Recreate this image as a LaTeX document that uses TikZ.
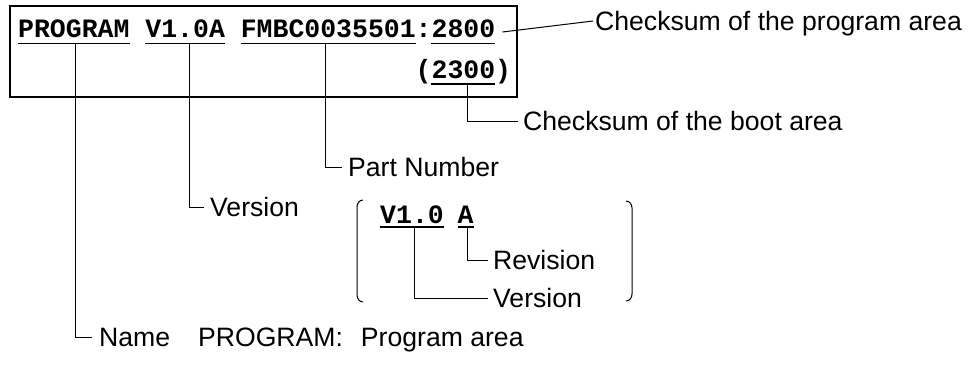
\documentclass[tikz,border=0pt]{standalone}
\usepackage{fontspec}
\setmainfont{Liberation Sans}
\setmonofont{Liberation Mono}
\newcommand\codefont{\fontsize{26.5}{30}\selectfont\ttfamily\bfseries}
\newcommand\lblfont{\fontsize{26.6}{30}\selectfont\rmfamily}
\begin{document}
\begin{tikzpicture}[x=1pt,y=-1pt,
  code/.style={font=\codefont, inner sep=0pt, anchor=base west},
  lbl/.style={font=\lblfont, inner xsep=6pt, inner ysep=0pt, anchor=west, text height=19pt, text depth=0pt},
  lead/.style={line width=1pt},
  uline/.style={line width=1.6pt},
  boxline/.style={line width=2pt}]
\useasboundingbox (0,0) rectangle (970,365);
% frame
\draw[boxline] (9.5,6) rectangle (517,96.5);
% code text, line 1
\node[code] (prog) at (18,37.5) {PROGRAM};
\node[code] (ver)  at (145.2,37.5) {V1.0A};
\node[code] (part) at (240.6,37.5) {FMBC0035501};
\node[code] (colon) at (415.5,37.5) {:};
\node[code] (cs)   at (431.4,37.5) {2800};
% line 2
\node[code] (lp)   at (415.5,78) {(};
\node[code] (boot) at (431.4,78) {2300};
\node[code] (rp)   at (495,78) {)};
% bracket text
\node[code] (v10)  at (380,223) {V1.0};
\node[code] (reva) at (457.5,223) {A};
% underlines
\foreach \n in {prog,ver,part,cs,boot}
  \draw[uline] ([yshift=-6pt]\n.base west) -- ([yshift=-6pt]\n.base east);
\foreach \n in {v10,reva}
  \draw[uline] ([yshift=-4pt]\n.base west) -- ([yshift=-4pt]\n.base east);
% labels
\node[lbl, inner xsep=2pt] (proglbl) at (593,21) {Checksum of the program area};
\node[lbl, inner xsep=5pt] (bootlbl) at (518,121) {Checksum of the boot area};
\node[lbl] (partlbl) at (342,167) {Part Number};
\node[lbl] (verlbl) at (204,207) {Version};
\node[lbl, inner xsep=5pt] (revlbl) at (488,260) {Revision};
\node[lbl, inner xsep=5pt] (ver2lbl) at (488,298) {Version};
\node[lbl, inner xsep=7pt] (namelbl) at (92,337) {Name\hspace{28pt}PROGRAM:\hspace{18pt}Program area};
% leaders
\draw[lead] ([xshift=7pt,yshift=5.5pt]cs.base east) -- (proglbl.west);
\draw[lead] ([xshift=4pt,yshift=-6pt]boot.base) |- (bootlbl.west);
\draw[lead] ([xshift=-3pt,yshift=-6pt]part.base) |- (partlbl.west);
\draw[lead] ([xshift=4pt,yshift=-6pt]ver.base) |- (verlbl.west);
\draw[lead] ([xshift=2pt,yshift=-6pt]prog.base) |- (namelbl.west);
\draw[lead] ([xshift=1.5pt,yshift=-4pt]reva.base) |- (revlbl.west);
\draw[lead] ([xshift=2pt,yshift=-4pt]v10.base) |- (ver2lbl.west);
% brackets
\draw[lead] (363,200) to[out=180,in=90] (357,207) -- (357,295) to[out=-90,in=180] (363,302);
\draw[lead] (626,201) to[out=0,in=90] (632,208) -- (632,294) to[out=-90,in=0] (626,301);
\end{tikzpicture}
\end{document}
